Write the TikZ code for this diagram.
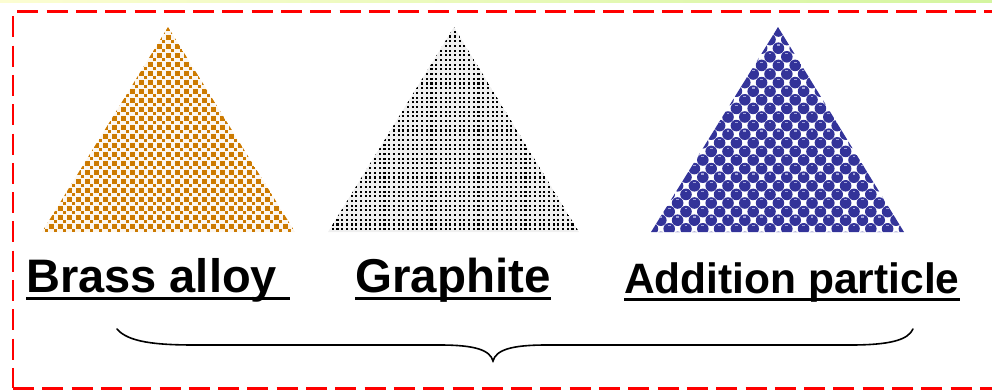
\documentclass[tikz,border=0pt]{standalone}
\usepackage{fontspec}
\setmainfont{Liberation Sans}
\definecolor{brass}{RGB}{204,122,0}
\definecolor{particle}{RGB}{51,51,153}
\definecolor{gleam}{RGB}{160,160,215}
\definecolor{frame}{RGB}{255,0,0}
\definecolor{stripL}{RGB}{252,253,210}
\definecolor{stripR}{RGB}{212,245,160}
\begin{document}
\begin{tikzpicture}[x=1pt,y=-1pt,
  frameline/.style={draw=frame,line width=3pt,dash pattern=on 21pt off 8.3pt},
  matname/.style={inner sep=0pt,anchor=base west},
  uline/.style={line width=3.3pt},
  bracepath/.style={line width=1.6pt,line cap=round}]
\useasboundingbox (0,0) rectangle (992,389);

% thin tinted strip along the top edge
\shade[left color=stripL,right color=stripR] (0,0) rectangle (992,2.2);

% dashed frame, open on the right
\coordinate (tl) at (13,11);
\coordinate (tr) at (996,11);
\coordinate (bl) at (13,388);
\coordinate (br) at (996,388);
\draw[frameline,dash phase=25pt] (tl) -- (tr);
\draw[frameline,line width=2.5pt,dash phase=24pt] (tl) -- (bl);
\draw[frameline,dash phase=0pt] (bl) -- (br);

% brass alloy: orange square dots
\coordinate (bA) at (168,27);
\coordinate (bL) at (42,232);
\coordinate (bR) at (295,232);
\begin{scope}
  \clip (bA) -- (bL) -- (bR) -- cycle;
  \fill[brass!6] (bA) -- (bL) -- (bR) -- cycle;
  \foreach \i in {0,...,28}{
    \foreach \j in {0,...,23}{
      \fill[brass] (40+9*\i,26+9*\j) rectangle ++(4.6,4.6);
      \fill[brass] (45+9*\i,31+9*\j) rectangle ++(3.4,3.4);
    }
  }
\end{scope}

% graphite: fine black dots
\coordinate (gA) at (454,27);
\coordinate (gL) at (328,232);
\coordinate (gR) at (579,232);
\begin{scope}
  \clip (gA) -- (gL) -- (gR) -- cycle;
  \fill[black!6] (gA) -- (gL) -- (gR) -- cycle;
  \foreach \i in {0,...,54}{
    \foreach \j in {0,...,44}{
      \fill[black] (327+4.7*\i,26+4.7*\j) rectangle ++(2.1,2.1);
    }
  }
\end{scope}

% addition particle: blue beads in a staggered lattice
\coordinate (pA) at (778,27);
\coordinate (pL) at (651,232);
\coordinate (pR) at (904,232);
\begin{scope}
  \clip (pA) -- (pL) -- (pR) -- cycle;
  \foreach \j in {0,...,24}{
    \pgfmathsetmacro\off{mod(\j,2)*8.4}
    \foreach \i in {0,...,16}{
      \fill[particle] (644+\off+16.8*\i,31+8.6*\j) circle (5.8);
      \fill[gleam] (642.6+\off+16.8*\i,27.2+8.6*\j) rectangle ++(2.8,1.1);
    }
  }
\end{scope}

% captions
\node[matname,font=\bfseries\fontsize{47}{52}\selectfont]
  (brasstxt) at (26,292.5) {Brass alloy\ \null};
\node[matname,font=\bfseries\fontsize{47.5}{52}\selectfont]
  (graphtxt) at (355,292.5) {Graphite};
\node[matname,font=\bfseries\fontsize{42.5}{48}\selectfont]
  (parttxt) at (624,293) {Addition particle};
\foreach \n in {brasstxt,graphtxt,parttxt}{
  \draw[uline] ([yshift=-6.3pt]\n.base west) -- ([yshift=-6.3pt]\n.base east);
}

% brace beneath the three captions
\coordinate (kL) at (117,329);
\coordinate (kM) at (493,361);
\coordinate (kR) at (913,329);
\draw[bracepath] (kL) .. controls (128,342) and (155,345) .. (195,345)
  -- (440,345) .. controls (475,345) and (490,350) .. (kM)
  .. controls (496,350) and (511,345) .. (546,345)
  -- (850,345) .. controls (890,345) and (908,340) .. (kR);
\end{tikzpicture}
\end{document}
